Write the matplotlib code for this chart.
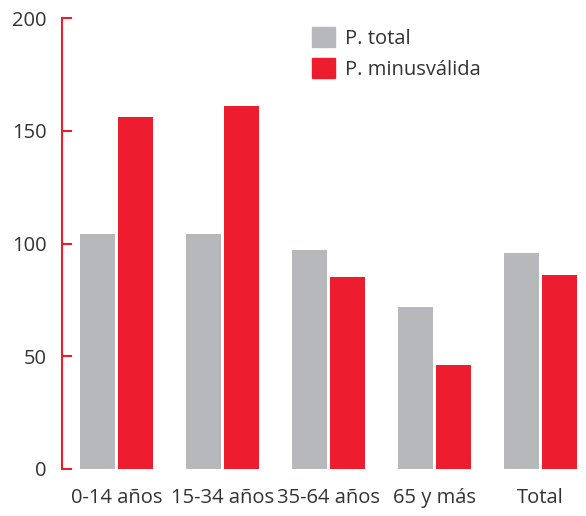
import numpy as np
import matplotlib.pyplot as plt
from matplotlib.patches import Patch

categories = ["0-14 años", "15-34 años", "35-64 años", "65 y más", "Total"]
p_total = [104, 104, 97, 72, 96]
p_minusvalida = [156, 161, 85, 46, 86]
series_names = ["P. total", "P. minusválida"]
y_ticks = [0, 50, 100, 150, 200]

GRAY = "#B7B8BC"
RED = "#ED1C2E"
TEXT = "#333333"

plt.rcParams['font.family'] = ['Open Sans', 'DejaVu Sans']

fig = plt.figure(figsize=(5.86, 5.16), dpi=100)
ax = fig.add_axes([62 / 586, 47 / 516, 1 - 62 / 586, (469 - 18) / 516])

x = np.arange(len(categories))
w = 35 / 106
off = 19 / 106
ax.bar(x - off, p_total, width=w, color=GRAY, label=series_names[0])
ax.bar(x + off, p_minusvalida, width=w, color=RED, label=series_names[1])

ax.set_xlim(-54.5 / 106, 4 + 45.5 / 106)
ax.set_ylim(0, 200)
ax.set_yticks(y_ticks)
ax.set_xticks(x)
ax.set_xticklabels(categories)

for s in ["top", "right", "bottom"]:
    ax.spines[s].set_visible(False)
ax.spines["left"].set_color(RED)
ax.spines["left"].set_linewidth(1.5)

ax.tick_params(axis="y", direction="in", length=7, width=1.5, color=RED,
               labelsize=14.5, labelcolor=TEXT, pad=11)
ax.tick_params(axis="x", length=0, labelsize=14.5, labelcolor=TEXT, pad=14)

handles = [Patch(color=GRAY), Patch(color=RED)]
fig.legend(handles, series_names, loc="upper left",
           bbox_to_anchor=(294 / 586, 1 - 9 / 516), frameon=False,
           fontsize=14.5, handlelength=1.15, handleheight=1.15,
           handletextpad=0.5, labelspacing=0.45, labelcolor=TEXT)

fig.savefig("out.png", dpi=100)
